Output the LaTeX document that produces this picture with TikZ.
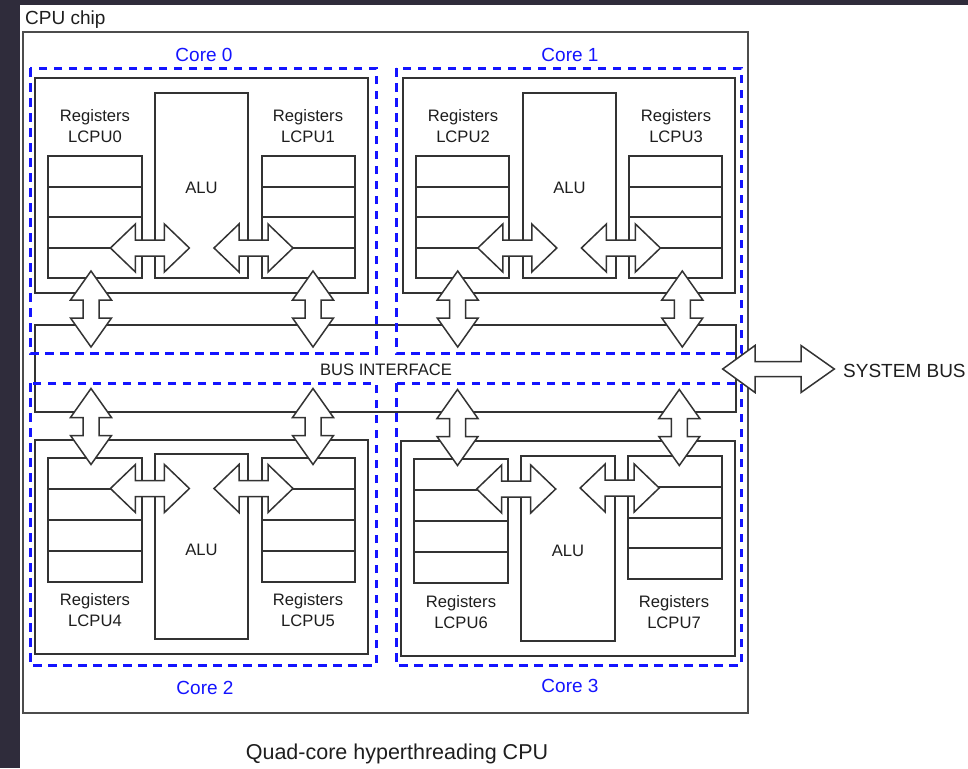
\documentclass[tikz,border=0pt]{standalone}
\usepackage{fontspec}
\setmainfont{Liberation Sans}
\definecolor{bgdark}{RGB}{47,44,59}
\definecolor{ink}{RGB}{30,30,30}
\definecolor{coreblue}{RGB}{20,20,255}
\newcommand{\regstack}[5]{%
  \draw[line] (#2,#3) rectangle (#4,#5);
  \coordinate (#1) at ({(#2+#4)/2},{(#3+#5)/2});
  \foreach \rr in {1,2,3}{\draw[line] (#2,{round(#3+\rr*(#5-#3)/4)}) -- (#4,{round(#3+\rr*(#5-#3)/4)});}
}
\begin{document}
\begin{tikzpicture}[x=1pt,y=-1pt,
  line/.style={draw=black!80, line width=1.5pt},
  chipline/.style={draw=black!70, line width=1.7pt},
  corebox/.style={draw=coreblue, line width=3pt, dash pattern=on 8.5pt off 6.5pt},
  blk/.style={draw=black!80, line width=1.5pt, fill=white, line join=miter},
  lbl/.style={font=\fontsize{16.6}{21}\selectfont, text=ink, align=center, inner sep=0pt},
  corelbl/.style={font=\fontsize{19}{22}\selectfont, text=coreblue, inner sep=0pt},
  hdbl/.pic={\draw[blk] (-39.5,0) -- (-14.5,-24) -- (-14.5,-8) -- (14.5,-8) -- (14.5,-24) -- (39.5,0) -- (14.5,24) -- (14.5,8) -- (-14.5,8) -- (-14.5,24) -- cycle;},
  vdbl/.pic={\draw[blk] (0,-38) -- (20.5,-9) -- (8,-9) -- (8,9) -- (20.5,9) -- (0,38) -- (-20.5,9) -- (-8,9) -- (-8,-9) -- (-20.5,-9) -- cycle;}
]
\useasboundingbox (0,0) rectangle (968,768);
\fill[bgdark] (0,0) rectangle (968,768);
\fill[white] (20,5) rectangle (968,768);

% CPU chip
\draw[chipline] (23,32) rectangle (748,713);
\node[anchor=base west, font=\fontsize{19}{22}\selectfont, text=ink, inner sep=0pt] (chiplbl) at (25,25) {CPU chip};

% bus interface box
\draw[line] (35,325) rectangle (736,412);
\node[lbl, anchor=base] (buslbl) at (386,375.7) {BUS INTERFACE};

% inner core boxes
\draw[line] (35,78) rectangle (368,293);
\draw[line] (403,78) rectangle (735,293);
\draw[line] (35,440) rectangle (368,654);
\draw[line] (401,441) rectangle (735,656);

% register stacks
\regstack{reg0}{48}{156}{142}{278}
\regstack{reg1}{262}{156}{355}{278}
\regstack{reg2}{416}{156}{509}{278}
\regstack{reg3}{629}{156}{722}{278}
\regstack{reg4}{48}{458}{142}{582}
\regstack{reg5}{262}{458}{355}{582}
\regstack{reg6}{414}{459}{508}{583}
\regstack{reg7}{628}{456}{722}{579}

% ALUs
\draw[line] (155,93) rectangle (248,278);
\node[lbl] (alu0) at (201.5,188) {ALU};
\draw[line] (523,93) rectangle (616,278);
\node[lbl] (alu1) at (569.5,188) {ALU};
\draw[line] (155,454) rectangle (248,639);
\node[lbl] (alu2) at (201.5,550) {ALU};
\draw[line] (521,456) rectangle (615,641);
\node[lbl] (alu3) at (568,551) {ALU};

% register labels
\node[lbl] (l0) at (95,126.5) {Registers\\LCPU0};
\node[lbl] (l1) at (308,126.5) {Registers\\LCPU1};
\node[lbl] (l2) at (463,126.5) {Registers\\LCPU2};
\node[lbl] (l3) at (676,126.5) {Registers\\LCPU3};
\node[lbl] (l4) at (95,610.5) {Registers\\LCPU4};
\node[lbl] (l5) at (308,610.5) {Registers\\LCPU5};
\node[lbl] (l6) at (461,612.5) {Registers\\LCPU6};
\node[lbl] (l7) at (674,612.5) {Registers\\LCPU7};

% dashed core outlines
\draw[corebox] (30,68) rectangle (376,353);
\draw[corebox] (396,68) rectangle (741,353);
\draw[corebox] (30,383) rectangle (376,665);
\draw[corebox] (396,383) rectangle (741,665);
\node[corelbl] (c0) at (204,55) {Core 0};
\node[corelbl] (c1) at (570,55) {Core 1};
\node[corelbl] (c2) at (205,688) {Core 2};
\node[corelbl] (c3) at (570,686) {Core 3};

% horizontal double arrows (registers <-> ALU)
\pic at (149.9,248) {hdbl};
\pic at (253.5,248) {hdbl};
\pic at (517.3,248) {hdbl};
\pic at (620.9,248) {hdbl};
\pic at (149.9,488.5) {hdbl};
\pic at (253.5,488.5) {hdbl};
\pic at (516.2,489) {hdbl};
\pic at (619.7,488) {hdbl};

% vertical double arrows (registers <-> bus)
\pic at (91,309) {vdbl};
\pic at (313,309) {vdbl};
\pic at (457.7,309) {vdbl};
\pic at (682.3,309) {vdbl};
\pic at (91,426.5) {vdbl};
\pic at (313,426.5) {vdbl};
\pic at (457.5,427.5) {vdbl};
\pic at (679.3,427.5) {vdbl};

% system bus arrow
\draw[blk] (722.7,369) -- (755,345.5) -- (755,361.5) -- (801,361.5) -- (801,345.5) -- (834.3,369) -- (801,392.5) -- (801,376.5) -- (755,376.5) -- (755,392.5) -- cycle;
\node[anchor=base west, font=\fontsize{19}{22}\selectfont, text=ink, inner sep=0pt] (sysbus) at (843,377.3) {SYSTEM BUS};

% caption
\node[anchor=base, font=\fontsize{21.5}{24}\selectfont, text=ink, inner sep=0pt] (caption) at (397,759) {Quad-core hyperthreading CPU};
\end{tikzpicture}
\end{document}
